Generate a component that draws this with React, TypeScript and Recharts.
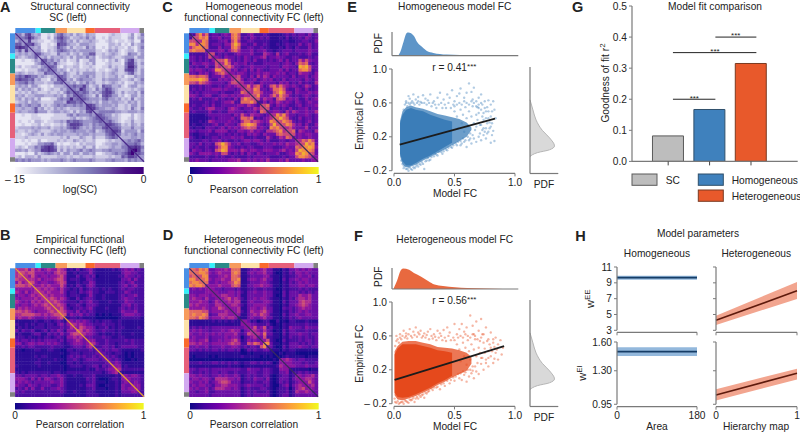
import {
  Area,
  AreaChart,
  Bar,
  BarChart,
  Cell,
  ComposedChart,
  Line,
  ReferenceArea,
  ReferenceLine,
  Scatter,
  ScatterChart,
  XAxis,
  YAxis,
} from "recharts";

const FONT = '"Liberation Sans", Arial, sans-serif';
const INK = "#222222";
const AXIS = "#7a7a7a";

// network strips along the matrices
const networkEdges = [0, 0.158, 0.199, 0.313, 0.403, 0.545, 0.618, 0.817, 0.964, 1];
const networkColors = ["#4a90e6", "#36f0fa", "#2a8a88", "#f79b5c", "#fde2a8", "#fa6a2c", "#e6607a", "#d2aaf0", "#808080"];

const fcLevels = ["#120a8a", "#2d0c95", "#4a0e9f", "#6a10a5", "#8a15a0", "#ac2b90", "#c94a78", "#e26a5e", "#f28c45", "#f0b030"];
const scLevels = ["#f7f6fc", "#e6e5f3", "#cfcce6", "#b5b0d9", "#9c95cb", "#8378bb", "#6c5aa9", "#5a3f9b", "#4b2a8c", "#3f007d"];
const fcStops = ["#0d0887", "#46039f", "#7201a8", "#9c179e", "#bd3786", "#d8576b", "#ed7953", "#fb9f3a", "#fdca26", "#f0f921"];
const scStops = ["#fcfbfd", "#dadaeb", "#bcbddc", "#9e9ac8", "#807dba", "#6a51a3", "#4a1486", "#3f007d"];
const diagonalEnds = [{ x: 0, y: 0 }, { x: 40, y: 40 }];

// upper triangles, one digit (0-9) per cell, spaces only mark the networks
const scRows = [
  "853674 34 11213 564 342432 433 11112322 112412 5",
  "85686 43 11314 675 423343 534 11213222 113413 4",
  "8473 32 21123 565 342423 343 21123212 212311 5",
  "867 43 11212 766 433244 433 11113323 121423 4",
  "84 34 11223 654 242332 534 11213232 213213 5",
  "8 44 21323 565 434344 444 22124342 123313 4",
  "86 43322 533 423424 466 22323432 125442 4",
  "8 34243 343 242443 534 12334322 344424 4",
  "86453 423 122412 244 11213242 146732 3",
  "8546 322 112312 324 11123222 157742 4",
  "865 213 223312 232 11224232 258852 3",
  "85 343 132322 323 12212342 267742 4",
  "8 435 322424 444 22323432 235632 4",
  "865 323344 534 22323342 312243 4",
  "86 342454 443 22434443 223423 5",
  "8 434243 534 22323432 312243 4",
  "856557 423 42655334 213442 3",
  "85486 432 53576432 222323 4",
  "8656 534 34677532 423342 5",
  "865 432 52676442 312442 4",
  "86 544 43564434 232523 4",
  "8 443 42443443 324342 4",
  "876 43444342 232442 4",
  "87 54433432 232532 5",
  "8 45555544 334443 4",
  "86544232 111312 3",
  "8654332 112312 3",
  "856432 122422 3",
  "87654 232432 4",
  "8665 333533 4",
  "876 244442 5",
  "85 343453 4",
  "8 333443 4",
  "845456 4",
  "85565 3",
  "8787 5",
  "897 4",
  "86 5",
  "8 4",
  "8",
];

const homRows = [
  "026857 23 32343 786 223422 232 11112323 233242 3",
  "06878 23 34233 786 232432 323 11121312 232432 3",
  "0587 22 23342 685 223322 222 11112211 223322 4",
  "087 23 33244 797 332242 232 11212322 242342 3",
  "07 22 24233 786 223322 322 11121321 322242 3",
  "0 33 34424 675 333423 342 21223332 333343 3",
  "06 23232 234 333422 254 32523422 232342 2",
  "0 43243 323 243233 452 33433223 322232 3",
  "06685 323 243242 232 32342423 364643 3",
  "0586 343 342322 233 33323432 476732 3",
  "067 533 233433 332 33324433 298963 3",
  "05 342 342424 322 33342423 378862 3",
  "0 434 432334 344 33434233 254432 4",
  "056 332425 354 24333324 233423 4",
  "06 423342 343 42324233 332432 4",
  "0 533422 433 33243423 242322 5",
  "057467 423 67575434 323542 3",
  "06587 332 47786322 432422 3",
  "0577 533 36797442 433343 4",
  "068 433 57586532 323432 3",
  "06 354 42676343 422423 4",
  "0 242 43543432 432343 3",
  "067 32434322 342333 4",
  "06 23323242 233423 3",
  "0 34432535 433433 5",
  "05868533 233432 3",
  "0797632 242332 3",
  "068763 232342 3",
  "06875 342422 4",
  "0564 333523 3",
  "067 254332 5",
  "06 343443 3",
  "0 343343 3",
  "057686 3",
  "06978 3",
  "0898 4",
  "087 3",
  "06 3",
  "0 4",
  "0",
];

const empRows = [
  "955646 45 34544 654 121312 342 11111212 343423 2",
  "96566 44 43435 655 112122 242 11111111 344332 2",
  "9546 43 44344 564 111312 323 01111112 243323 2",
  "955 45 34445 664 122211 332 11111111 334242 2",
  "96 43 44334 565 111212 243 11111112 323422 2",
  "9 44 54544 464 121321 343 11111112 342342 2",
  "95 45454 353 212131 232 21212112 323322 2",
  "9 54544 453 122132 342 21122212 243222 2",
  "95454 443 122211 242 11211112 323342 2",
  "9565 454 211312 332 11211112 343322 2",
  "956 543 222132 342 21112112 243322 2",
  "95 654 122321 333 21111111 334232 2",
  "9 564 212232 342 11121112 323232 2",
  "965 332423 232 11111112 433342 2",
  "96 243342 322 01010111 344433 2",
  "9 122121 111 00000001 222222 1",
  "943434 321 21222112 111111 1",
  "95454 332 22322212 111111 1",
  "9465 443 12231212 211112 1",
  "964 543 22322212 111111 1",
  "95 443 21211212 111211 1",
  "9 332 22322112 211111 1",
  "944 22232222 232322 2",
  "95 32232212 222322 2",
  "9 22332312 333332 2",
  "93232332 111111 2",
  "9322122 101011 1",
  "932321 101011 1",
  "93232 100101 1",
  "9343 111111 1",
  "944 121111 1",
  "95 222222 2",
  "9 111111 1",
  "943443 2",
  "94333 2",
  "9343 2",
  "944 2",
  "94 2",
  "9 2",
  "9",
];

const hetRows = [
  "176878 33 44454 777 112343 453 31102133 434343 3",
  "17887 43 45444 787 113434 453 31002132 443433 3",
  "1688 33 34454 776 112333 344 21102122 343342 3",
  "178 43 44544 778 113443 453 31103133 434433 3",
  "17 33 43445 687 112333 443 21102132 343433 3",
  "1 44 45444 676 113344 544 31102133 344344 3",
  "14 33233 323 112232 232 21002122 232322 2",
  "1 43334 434 213343 343 31103133 323232 3",
  "14554 434 113333 343 31003133 354453 3",
  "1456 454 213343 443 21102132 455453 3",
  "145 455 113433 344 31103133 356553 3",
  "14 554 213344 443 21102133 456543 3",
  "1 445 113443 453 31103232 345443 3",
  "145 213544 564 31102132 343433 3",
  "14 113454 654 21103133 433443 3",
  "1 113433 453 31102132 343333 3",
  "143120 122 00201022 111211 1",
  "14332 223 10102122 222322 2",
  "1463 462 31102143 332433 3",
  "154 353 20103133 222322 2",
  "15 473 31103133 343323 3",
  "1 362 21102132 232322 3",
  "146 21003122 232332 3",
  "18 31102133 323232 3",
  "1 31003133 343323 3",
  "11102122 111111 1",
  "1010111 000000 0",
  "101211 111011 1",
  "14543 233222 2",
  "1443 332322 3",
  "144 333433 3",
  "11 111101 1",
  "1 232322 2",
  "143445 3",
  "14554 3",
  "1464 3",
  "145 3",
  "14 3",
  "1 3",
  "1",
];

// panel E: dense part of the cloud, then the loose points round it
const homBandX = [0.05, 0.07, 0.1, 0.14, 0.18, 0.24, 0.3, 0.36, 0.42, 0.48, 0.54, 0.6, 0.64];
const homCoreLow = [0.0, -0.09, -0.14, -0.14, -0.11, -0.06, -0.02, 0.03, 0.08, 0.13];
const homCoreHigh = [0.36, 0.46, 0.52, 0.54, 0.52, 0.5, 0.46, 0.43, 0.4, 0.38];
const homMidLow = [-0.03, -0.12, -0.16, -0.15, -0.13, -0.08, -0.04, 0.01, 0.05, 0.1, 0.15, 0.2, 0.28];
const homMidHigh = [0.39, 0.5, 0.55, 0.57, 0.55, 0.53, 0.5, 0.47, 0.45, 0.43, 0.41, 0.37, 0.31];
const homPoints = [
  [.1,.62],[.12,.68],[.14,.6],[.13,.65],[.16,.7],[.18,.64],[.2,.67],[.22,.61],[.24,.69],[.26,.65],
  [.28,.63],[.3,.7],[.33,.62],[.36,.66],[.38,.72],[.41,.64],[.44,.7],[.46,.66],[.48,.75],[.5,.62],
  [.52,.68],[.54,.71],[.55,.77],[.58,.66],[.6,.72],[.62,.83],[.64,.73],[.65,.64],[.66,.78],[.68,.62],
  [.7,.66],[.72,.7],[.73,.58],[.75,.62],[.77,.55],[.78,.63],[.8,.58],[.81,.5],[.82,.62],[.83,.52],
  [.84,.42],[.55,.1],[.58,.14],[.6,.08],[.62,.16],[.64,.12],[.66,.18],[.68,.14],[.7,.2],[.72,.16],
  [.74,.22],[.76,.18],[.78,.26],[.8,.13],[.82,.27],[.83,.15],[.8,.32],[.76,.3],[.74,.4],[.78,.42],
  [.7,.48],[.68,.32],[.08,-.14],[.1,-.18],[.12,-.2],[.13,-.16],[.15,-.19],[.17,-.17],[.2,-.15],[.22,-.13],
  [.25,-.18],[.27,-.08],[.3,-.07],[.33,-.03],[.36,-.02],[.4,0],[.44,.04],[.48,.07],[.52,.1],[.56,.12],
  [.74,.48],[.72,.34],[.76,.5],[.79,.37],[.81,.22],[.75,.26],[.73,.28],[.77,.36],[.71,.24],[.69,.55],
  [.5,.5],[.52,.44],[.53,.3],[.55,.52],[.56,.36],[.57,.46],[.58,.26],[.59,.55],[.6,.42],[.61,.32],
  [.62,.5],[.63,.24],[.64,.44],[.65,.56],[.66,.36],[.67,.28],[.68,.46],[.69,.4],[.7,.58],[.71,.34],
  [.72,.52],[.73,.44],[.74,.3],[.75,.54],[.76,.42],[.77,.24],[.78,.5],[.79,.3],[.8,.44],[.81,.36],
  [.54,.6],[.56,.58],[.58,.62],[.6,.6],[.62,.58],[.64,.62],[.66,.6],[.68,.56],[.7,.54],[.72,.6],
  [.08,.52],[.09,.58],[.1,.6],[.11,.56],[.12,.6],[.13,.58],[.15,.62],[.16,.6],[.17,.58],[.19,.6],
  [.2,.62],[.21,.58],[.23,.6],[.25,.6],[.27,.58],[.29,.6],[.31,.56],[.32,.6],[.34,.58],[.35,.54],
  [.37,.58],[.39,.6],[.4,.54],[.42,.58],[.43,.54],[.45,.6],[.47,.54],[.49,.58],[.5,.56],[.52,.58],
  [.06,-.08],[.07,-.12],[.08,-.17],[.09,-.15],[.11,-.18],[.12,-.16],[.14,-.18],[.16,-.16],[.18,-.15],[.19,-.13],
  [.21,-.12],[.23,-.1],[.24,-.12],[.26,-.09],[.28,-.05],[.29,-.08],[.31,-.04],[.34,0],[.35,-.01],[.37,.02],
  [.39,.02],[.41,.03],[.43,.05],[.45,.07],[.47,.08],[.49,.1],[.51,.12],[.53,.14],[.55,.15],[.57,.18],
  [.59,.16],[.61,.2],[.63,.18],[.65,.22],
];
const homFit = [{ x: 0.047, y: 0.107 }, { x: 0.835, y: 0.414 }];

// panel F
const hetBandX = [0.005, 0.03, 0.07, 0.12, 0.18, 0.24, 0.3, 0.36, 0.42, 0.48, 0.54, 0.6, 0.64];
const hetCoreLow = [-0.07, -0.12, -0.13, -0.12, -0.09, -0.05, -0.01, 0.04, 0.08, 0.13];
const hetCoreHigh = [0.38, 0.45, 0.5, 0.5, 0.5, 0.48, 0.46, 0.43, 0.42, 0.4];
const hetMidLow = [-0.1, -0.15, -0.16, -0.14, -0.11, -0.07, -0.03, 0.02, 0.06, 0.11, 0.15, 0.19, 0.27];
const hetMidHigh = [0.42, 0.48, 0.53, 0.54, 0.54, 0.52, 0.5, 0.47, 0.46, 0.45, 0.43, 0.4, 0.35];
const hetPoints = [
  [.02,.6],[.05,.62],[.08,.66],[.1,.63],[.13,.68],[.16,.65],[.18,.7],[.2,.64],[.22,.66],[.25,.63],
  [.28,.65],[.3,.68],[.33,.62],[.36,.66],[.38,.63],[.41,.67],[.44,.7],[.46,.64],[.5,.74],[.52,.62],
  [.54,.68],[.56,.74],[.58,.65],[.6,.7],[.63,.84],[.65,.72],[.66,.62],[.68,.77],[.7,.66],[.72,.8],
  [.74,.62],[.76,.7],[.78,.56],[.8,.64],[.82,.52],[.84,.58],[.86,.5],[.88,.55],[.9,.46],[.89,.38],
  [.86,.32],[.84,.4],[.82,.28],[.8,.36],[.78,.24],[.76,.32],[.74,.2],[.72,.27],[.7,.15],[.68,.18],
  [.66,.1],[.64,.16],[.62,.12],[.6,.06],[.58,.14],[.56,.08],[.8,.46],[.78,.42],[.75,.45],[.83,.47],
  [.02,-.19],[.04,-.2],[.06,-.18],[.08,-.2],[.1,-.17],[.12,-.19],[.14,-.16],[.17,-.18],[.2,-.14],[.22,-.12],
  [.25,-.13],[.28,-.06],[.32,-.04],[.35,-.01],[.38,-.03],[.42,.01],[.46,.04],[.5,.07],[.54,.1],[.72,.34],
  [.52,.5],[.54,.44],[.55,.3],[.57,.52],[.58,.36],[.59,.46],[.6,.26],[.61,.55],[.62,.42],[.63,.32],
  [.64,.5],[.65,.24],[.66,.44],[.67,.56],[.68,.36],[.69,.28],[.7,.46],[.71,.4],[.72,.58],[.73,.34],
  [.74,.52],[.75,.4],[.76,.28],[.77,.54],[.78,.34],[.79,.5],[.81,.42],[.82,.56],[.83,.33],[.85,.44],
  [.55,.6],[.57,.58],[.59,.62],[.61,.6],[.63,.58],[.65,.62],[.67,.6],[.69,.56],[.71,.54],[.73,.62],
  [.01,.48],[.02,.54],[.03,.56],[.04,.52],[.05,.58],[.06,.56],[.07,.6],[.09,.58],[.1,.6],[.11,.57],
  [.12,.62],[.14,.6],[.15,.58],[.17,.61],[.19,.59],[.21,.62],[.23,.58],[.24,.6],[.26,.58],[.27,.61],
  [.29,.56],[.31,.6],[.32,.57],[.34,.59],[.35,.55],[.37,.58],[.39,.6],[.4,.55],[.42,.58],[.43,.54],
  [.45,.6],[.47,.55],[.49,.58],[.5,.55],[.53,.58],[.005,-.14],[.01,-.18],[.03,-.17],[.05,-.19],[.07,-.18],
  [.09,-.16],[.11,-.18],[.13,-.15],[.15,-.15],[.16,-.13],[.18,-.14],[.19,-.12],[.21,-.1],[.23,-.1],[.24,-.09],
  [.26,-.07],[.27,-.08],[.29,-.05],[.31,-.02],[.33,-.01],[.36,.0],[.39,.03],[.41,.04],[.44,.07],[.47,.08],
  [.49,.11],[.51,.12],[.53,.15],[.55,.16],[.57,.18],[.59,.17],[.61,.2],[.63,.2],[.65,.19],[.67,.24],
];
const hetFit = [{ x: 0.005, y: 0.08 }, { x: 0.91, y: 0.48 }];

// marginal densities
const homPdfX = [0.03, 0.05, 0.074, 0.1, 0.113, 0.16, 0.185, 0.226, 0.267, 0.32, 0.43, 0.65, 0.85];
const homPdfY = [0, 0.2, 0.6, 0.98, 1, 0.85, 0.6, 0.38, 0.2, 0.12, 0.05, 0.02, 0];
const hetPdfX = [-0.01, 0.02, 0.05, 0.07, 0.12, 0.16, 0.22, 0.28, 0.33, 0.4, 0.5, 0.6, 0.75, 0.9];
const hetPdfY = [0, 0.4, 0.9, 1, 0.93, 0.78, 0.6, 0.38, 0.22, 0.15, 0.09, 0.05, 0.02, 0.005];
const empPdfY = [-0.03, 0.016, 0.05, 0.095, 0.19, 0.28, 0.4, 0.52, 0.64];
const empPdfX = [0, 0.3, 0.8, 1, 0.8, 0.5, 0.25, 0.12, 0];

// panel G
const fitNames = ["SC", "Homogeneous", "Heterogeneous"];
const fitValues = [0.082, 0.167, 0.315];
const fitFills = ["#bdbdbd", "#3f81bd", "#e8592b"];
const fitStrokes = ["#5a5a5a", "#2f4f6b", "#7a3a22"];
const fitBrackets = [
  { from: 1.115, to: 2.14, y: 0.2 },
  { from: 1.115, to: 3.13, y: 0.35 },
  { from: 2.14, to: 3.13, y: 0.4 },
];

// panel H
const homArea = [0, 180];
const homEEMid = [9.66, 9.66];
const homEELow = [9.4, 9.4];
const homEEHigh = [9.9, 9.9];
const homEIMid = [1.5, 1.5];
const homEILow = [1.454, 1.454];
const homEIHigh = [1.544, 1.544];
const hierarchy = [0, 1];
const hetEEMid = [4.26, 8.0];
const hetEELow = [3.67, 6.96];
const hetEEHigh = [4.85, 9.1];
const hetEIMid = [1.047, 1.273];
const hetEILow = [0.99, 1.21];
const hetEIHigh = [1.106, 1.322];

const N = 40;
const STRIP = 1.65;

type Box = [number, number, number, number];

function frame(box: Box, showX = false, showY = false) {
  const [l, t, r, b] = box;
  return {
    style: { position: "absolute" as const, left: l - 36, top: t - 6 },
    width: r - l + 50,
    height: b - t + 30,
    margin: { left: showY ? 6 : 36, right: 14, top: 6, bottom: showX ? 4 : 24 },
  };
}

function buildCells(rows: string[]) {
  const clean = rows.map((r) => r.replace(/ /g, ""));
  const cells: { x: number; y: number; level: number }[] = [];
  for (let i = 0; i < N; i++) {
    for (let j = 0; j < N; j++) {
      const a = Math.min(i, j);
      const b = Math.max(i, j);
      // the diagonal itself is drawn as a thin line on top, so its cells take the neighbour's value
      const digit = i === j ? clean[a][1] ?? clean[a - 1][1] : clean[a][b - a];
      cells.push({ x: j + 0.5, y: i + 0.5, level: Number(digit ?? 2) });
    }
  }
  return cells;
}

function Heatmap({ rows, levels, box, diagonal }: { rows: string[]; levels: string[]; box: Box; diagonal: string }) {
  const f = frame(box);
  const size = (box[2] - box[0]) / (N + STRIP) + 0.4;
  const cell = (p: any) => (
    <rect x={p.cx - size / 2} y={p.cy - size / 2} width={size} height={size} fill={levels[p.payload.level]} />
  );
  return (
    <div style={f.style}>
      <ScatterChart width={f.width} height={f.height} margin={f.margin}>
        <XAxis type="number" dataKey="x" domain={[-STRIP, N]} hide />
        <YAxis type="number" dataKey="y" domain={[-STRIP, N]} reversed hide />
        <Scatter data={buildCells(rows)} shape={cell} isAnimationActive={false} />
        <Scatter data={diagonalEnds} line={{ stroke: diagonal, strokeWidth: 1.2 }} shape={() => <g />} isAnimationActive={false} />
        {networkColors.map((c, k) => (
          <ReferenceArea key={"t" + k} x1={networkEdges[k] * N} x2={networkEdges[k + 1] * N} y1={-STRIP} y2={0} fill={c} fillOpacity={1} stroke="none" />
        ))}
        {networkColors.map((c, k) => (
          <ReferenceArea key={"l" + k} y1={networkEdges[k] * N} y2={networkEdges[k + 1] * N} x1={-STRIP} x2={0} fill={c} fillOpacity={1} stroke="none" />
        ))}
      </ScatterChart>
    </div>
  );
}

function Colorbar({ id, stops, box, labels }: { id: string; stops: string[]; box: Box; labels: string[] }) {
  const f = frame(box, true);
  return (
    <div style={f.style}>
      <AreaChart width={f.width} height={f.height} margin={f.margin} data={[{ x: 0, v: 1 }, { x: 1, v: 1 }]}>
        <defs>
          <linearGradient id={id} x1="0" y1="0" x2="1" y2="0">
            {stops.map((c, i) => (
              <stop key={c} offset={i / (stops.length - 1)} stopColor={c} />
            ))}
          </linearGradient>
        </defs>
        <XAxis
          type="number"
          dataKey="x"
          domain={[0, 1]}
          ticks={[0, 1]}
          tickFormatter={(v) => labels[v]}
          tickLine={false}
          axisLine={false}
          tickSize={0}
          tickMargin={2}
          tick={{ fill: INK, fontSize: 10.2 }}
          height={20}
          interval={0}
        />
        <YAxis domain={[0, 1]} hide />
        <Area type="linear" dataKey="v" fill={`url(#${id})`} fillOpacity={1} stroke="none" isAnimationActive={false} />
      </AreaChart>
    </div>
  );
}

function segment(key: string, x1: number, y1: number, x2: number, y2: number, stroke = AXIS, strokeWidth = 1.2) {
  return (
    <ReferenceLine
      key={key}
      segment={[{ x: x1, y: y1 }, { x: x2, y: y2 }]}
      stroke={stroke}
      strokeWidth={strokeWidth}
      ifOverflow="visible"
    />
  );
}

const tickStyle = { fill: INK, fontSize: 10.2 };

function CloudPanel(props: {
  box: Box;
  bandX: number[];
  coreLow: number[];
  coreHigh: number[];
  midLow: number[];
  midHigh: number[];
  points: number[][];
  fit: { x: number; y: number }[];
  color: string;
}) {
  const { box, bandX, coreLow, coreHigh, midLow, midHigh, points, fit, color } = props;
  const f = frame(box, true, true);
  const rows = bandX.map((x, i) => ({
    x,
    core: coreLow[i] === undefined ? null : [coreLow[i], coreHigh[i]],
    mid: [midLow[i], midHigh[i]],
  }));
  const dots = points.map(([x, y]) => ({ x, y }));
  const xMin = -0.0165;
  const yMin = -0.232;
  return (
    <div style={f.style}>
      <ComposedChart width={f.width} height={f.height} margin={f.margin} data={rows}>
        <XAxis
          type="number"
          dataKey="x"
          domain={[xMin, 1]}
          ticks={[0, 0.5, 1]}
          tickFormatter={(v) => v.toFixed(1)}
          axisLine={false}
          tickLine={{ stroke: AXIS }}
          tickSize={3}
          tick={tickStyle}
          height={20}
          interval={0}
        />
        <YAxis
          type="number"
          dataKey="y"
          domain={[yMin, 1]}
          ticks={[-0.2, 0.2, 0.6, 1]}
          tickFormatter={(v) => (v < 0 ? "–\u00a00.2" : v.toFixed(1))}
          axisLine={false}
          tickLine={{ stroke: AXIS }}
          tickSize={3}
          tick={tickStyle}
          width={30}
          interval={0}
        />
        <Area type="linear" dataKey="mid" fill={color} fillOpacity={0.75} stroke="none" isAnimationActive={false} />
        <Area type="linear" dataKey="core" fill={color} fillOpacity={1} stroke="none" isAnimationActive={false} />
        <Scatter
          data={dots}
          dataKey="y"
          isAnimationActive={false}
          shape={(p: any) => <circle cx={p.cx} cy={p.cy} r={1.2} fill={color} fillOpacity={0.4} />}
        />
        <Scatter
          data={fit}
          dataKey="y"
          isAnimationActive={false}
          line={{ stroke: "#1c1c1c", strokeWidth: 1.8 }}
          shape={() => <g />}
        />
        {segment("ya", xMin, -0.2, xMin, 1)}
        {segment("xa", 0, yMin, 1, yMin)}
      </ComposedChart>
    </div>
  );
}

function TopPdf({ box, xs, ys, color }: { box: Box; xs: number[]; ys: number[]; color: string }) {
  const f = frame(box);
  const xMin = (box[0] - 394.3) / 121;
  const xMax = (box[2] - 394.3) / 121;
  return (
    <div style={f.style}>
      <AreaChart width={f.width} height={f.height} margin={f.margin} data={xs.map((x, i) => ({ x, pdf: ys[i] }))}>
        <XAxis type="number" dataKey="x" domain={[xMin, xMax]} hide />
        <YAxis type="number" domain={[0, 1.02]} hide />
        <Area type="monotone" dataKey="pdf" fill={color} fillOpacity={1} stroke="none" isAnimationActive={false} />
        {segment("ya", xMin, 0, xMin, 1.02)}
        {segment("xa", xMin, 0, xMax, 0)}
      </AreaChart>
    </div>
  );
}

function SidePdf({ box }: { box: Box }) {
  const f = frame(box);
  return (
    <div style={f.style}>
      <AreaChart
        layout="vertical"
        width={f.width}
        height={f.height}
        margin={f.margin}
        data={empPdfY.map((y, i) => ({ y, pdf: empPdfX[i] }))}
      >
        <XAxis type="number" domain={[0, 1.155]} hide />
        <YAxis type="number" dataKey="y" domain={[-0.23, 1.027]} reversed hide />
        <Area type="monotone" dataKey="pdf" fill="#d9d9d9" fillOpacity={1} stroke="#b5b5b5" isAnimationActive={false} />
        {segment("ya", 0, -0.23, 0, 1.027)}
        {segment("xa", 0, -0.23, 1.155, -0.23)}
      </AreaChart>
    </div>
  );
}

function ParamPanel(props: {
  box: Box;
  xs: number[];
  mid: number[];
  low: number[];
  high: number[];
  xDomain: number[];
  yDomain: number[];
  yTicks: number[];
  yFormat?: (v: number) => string;
  xLabels: boolean;
  band: string;
  line: string;
}) {
  const { box, xs, mid, low, high, xDomain, yDomain, yTicks, yFormat, xLabels, band, line } = props;
  const f = frame(box, true, true);
  const rows = xs.map((x, i) => ({ x, mid: mid[i], band: [low[i], high[i]] }));
  return (
    <div style={f.style}>
      <ComposedChart width={f.width} height={f.height} margin={f.margin} data={rows}>
        <XAxis
          type="number"
          dataKey="x"
          domain={xDomain}
          ticks={xDomain}
          tickFormatter={xLabels ? undefined : () => ""}
          axisLine={false}
          tickLine={{ stroke: AXIS }}
          tickSize={3}
          tick={tickStyle}
          height={20}
          interval={0}
        />
        <YAxis
          type="number"
          domain={yDomain}
          ticks={yTicks}
          tickFormatter={yFormat ?? (() => "")}
          axisLine={false}
          tickLine={{ stroke: AXIS }}
          tickSize={3}
          tick={tickStyle}
          width={30}
          interval={0}
        />
        <Area type="linear" dataKey="band" fill={band} fillOpacity={1} stroke="none" isAnimationActive={false} />
        <Line type="linear" dataKey="mid" stroke={line} strokeWidth={1.6} dot={false} isAnimationActive={false} />
        {segment("ya", xDomain[0], yTicks[0], xDomain[0], yTicks[yTicks.length - 1])}
        {segment("xa", xDomain[0], yDomain[0], xDomain[1], yDomain[0])}
      </ComposedChart>
    </div>
  );
}

function FitBars() {
  const box: Box = [632.3, 6.3, 798, 161.7];
  const f = frame(box, true, true);
  const rows = fitNames.map((name, i) => ({ name, pos: i + 1, value: fitValues[i] }));
  return (
    <div style={f.style}>
      <BarChart width={f.width} height={f.height} margin={f.margin} data={rows}>
        <XAxis
          type="number"
          dataKey="pos"
          domain={[0.126, 4.128]}
          ticks={[1, 2, 3]}
          tickFormatter={() => ""}
          tick={tickStyle}
          tickLine={{ stroke: "#444" }}
          axisLine={{ stroke: AXIS, strokeWidth: 1.2 }}
          tickSize={4}
          height={20}
          interval={0}
        />
        <YAxis
          type="number"
          domain={[0, 0.5]}
          ticks={[0, 0.1, 0.2, 0.3, 0.4, 0.5]}
          tickFormatter={(v) => v.toFixed(1)}
          axisLine={{ stroke: AXIS, strokeWidth: 1.2 }}
          tickLine={{ stroke: AXIS }}
          tickSize={3}
          tick={tickStyle}
          width={30}
          interval={0}
        />
        <Bar dataKey="value" barSize={31} isAnimationActive={false} strokeWidth={1}>
          {fitNames.map((name, i) => (
            <Cell key={name} fill={fitFills[i]} stroke={fitStrokes[i]} />
          ))}
        </Bar>
        {fitBrackets.map((b, i) => segment("b" + i, b.from, b.y, b.to, b.y, "#222", 1))}
      </BarChart>
    </div>
  );
}

const T = ({ x, y, children, anchor = "middle", size = 10.2, weight }: any) => (
  <text x={x} y={y} textAnchor={anchor} fontSize={size} fontWeight={weight} fill={INK}>
    {children}
  </text>
);

const R = ({ x, y, children, size = 10.2 }: any) => (
  <text transform={`translate(${x},${y}) rotate(-90)`} textAnchor="middle" fontSize={size} fill={INK}>
    {children}
  </text>
);

function Overlay() {
  return (
    <svg width={800} height={432} style={{ position: "absolute", left: 0, top: 0, pointerEvents: "none" }}>
      <T x={0} y={12} anchor="start" size={14.5} weight="bold">A</T>
      <T x={162.3} y={12} anchor="start" size={14.5} weight="bold">C</T>
      <T x={0} y={240.3} anchor="start" size={14.5} weight="bold">B</T>
      <T x={162.7} y={240.3} anchor="start" size={14.5} weight="bold">D</T>
      <T x={347.3} y={12} anchor="start" size={14.5} weight="bold">E</T>
      <T x={354} y={241} anchor="start" size={14.5} weight="bold">F</T>
      <T x={572} y={12} anchor="start" size={14.5} weight="bold">G</T>
      <T x={575.3} y={241} anchor="start" size={14.5} weight="bold">H</T>

      <T x={80} y={9.5}>Structural connectivity</T>
      <T x={68} y={20.5}>SC (left)</T>
      <T x={254} y={9.5}>Homogeneous model</T>
      <T x={254} y={20.5}>functional connectivity FC (left)</T>
      <T x={80} y={243.3}>Empirical functional</T>
      <T x={80} y={254.3}>connectivity FC (left)</T>
      <T x={254} y={243.3}>Heterogeneous model</T>
      <T x={254} y={254.3}>functional connectivity FC (left)</T>
      <T x={80} y={193}>log(SC)</T>
      <T x={254} y={193}>Pearson correlation</T>
      <T x={80} y={428}>Pearson correlation</T>
      <T x={254} y={428}>Pearson correlation</T>

      <T x={454.7} y={9.5}>Homogeneous model FC</T>
      <T x={454.7} y={243.3}>Heterogeneous model FC</T>
      <T x={454.3} y={71}>r = 0.41<tspan fontSize={8} dy={-2}>***</tspan></T>
      <T x={454.3} y={304}>r = 0.56<tspan fontSize={8} dy={-2}>***</tspan></T>
      <R x={382} y={43.3}>PDF</R>
      <R x={382} y={276.7}>PDF</R>
      <R x={363} y={120.7}>Empirical FC</R>
      <R x={363} y={353.7}>Empirical FC</R>
      <T x={455} y={197}>Model FC</T>
      <T x={455} y={430}>Model FC</T>
      <T x={544} y={188}>PDF</T>
      <T x={544} y={421}>PDF</T>

      <T x={715} y={9.5}>Model fit comparison</T>
      <R x={609} y={83}>Goodness of fit r<tspan fontSize={8} dy={-4}>2</tspan></R>
      <T x={694.3} y={101} size={8}>***</T>
      <T x={715} y={54} size={8}>***</T>
      <T x={735.7} y={38} size={8}>***</T>
      <rect x={632} y={174} width={25} height={11.3} fill={fitFills[0]} stroke={fitStrokes[0]} />
      <rect x={698.3} y={174} width={25} height={11.3} fill={fitFills[1]} stroke={fitStrokes[1]} />
      <rect x={698.3} y={190} width={25} height={11.3} fill={fitFills[2]} stroke={fitStrokes[2]} />
      <T x={665.7} y={184} anchor="start">{fitNames[0]}</T>
      <T x={731.7} y={184} anchor="start">{fitNames[1]}</T>
      <T x={731.7} y={200} anchor="start">{fitNames[2]}</T>

      <T x={698} y={236.5}>Model parameters</T>
      <T x={657} y={256.5}>Homogeneous</T>
      <T x={756.3} y={256.5}>Heterogeneous</T>
      <R x={594} y={298.7} size={11}>w<tspan fontSize={8} dy={-4}>EE</tspan></R>
      <R x={586} y={373} size={11}>w<tspan fontSize={8} dy={-4}>EI</tspan></R>
      <T x={657} y={430}>Area</T>
      <T x={756} y={430}>Hierarchy map</T>
    </svg>
  );
}

export default function App() {
  const blue = "#3b7db8";
  const red = "#e5491c";
  const eeDomain = [2.75, 11];
  const eiDomain = [0.925, 1.6];
  const eeTicks = [3, 5, 7, 9, 11];
  const eiTicks = [0.95, 1.3, 1.6];
  return (
    <div style={{ position: "absolute", left: 0, top: 0, width: 800, height: 432, background: "#fff", fontFamily: FONT, overflow: "hidden" }}>
      <Heatmap rows={scRows} levels={scLevels} box={[10, 27.7, 144, 161.5]} diagonal="#4b2a8c" />
      <Heatmap rows={homRows} levels={fcLevels} box={[184.4, 27.7, 318.4, 161.5]} diagonal="#3a2a60" />
      <Heatmap rows={empRows} levels={fcLevels} box={[10, 263, 144, 396.8]} diagonal="#e8a030" />
      <Heatmap rows={hetRows} levels={fcLevels} box={[184.4, 263, 318.4, 396.8]} diagonal="#3a2a60" />

      <Colorbar id="barA" stops={scStops} box={[15.3, 167, 144, 174]} labels={["–\u00a015", "0"]} />
      <Colorbar id="barC" stops={fcStops} box={[189.7, 167, 318.4, 174]} labels={["0", "1"]} />
      <Colorbar id="barB" stops={fcStops} box={[15.3, 402.7, 144, 409.3]} labels={["0", "1"]} />
      <Colorbar id="barD" stops={fcStops} box={[189.7, 402.7, 318.4, 409.3]} labels={["0", "1"]} />

      <TopPdf box={[391.7, 32, 518, 55.7]} xs={homPdfX} ys={homPdfY} color="#5e95c8" />
      <TopPdf box={[391.7, 267.7, 518, 288.7]} xs={hetPdfX} ys={hetPdfY} color="#e8693f" />
      <CloudPanel box={[392.3, 69.3, 515.3, 173.7]} bandX={homBandX} coreLow={homCoreLow} coreHigh={homCoreHigh} midLow={homMidLow} midHigh={homMidHigh} points={homPoints} fit={homFit} color={blue} />
      <CloudPanel box={[392.3, 302.3, 515.3, 406.7]} bandX={hetBandX} coreLow={hetCoreLow} coreHigh={hetCoreHigh} midLow={hetMidLow} midHigh={hetMidHigh} points={hetPoints} fit={hetFit} color={red} />
      <SidePdf box={[529.7, 67, 558, 173.5]} />
      <SidePdf box={[529.7, 300, 558, 406.5]} />

      <FitBars />

      <ParamPanel box={[617, 266.7, 697, 332]} xs={homArea} mid={homEEMid} low={homEELow} high={homEEHigh} xDomain={homArea} yDomain={eeDomain} yTicks={eeTicks} yFormat={(v) => String(v)} xLabels={false} band="#93b8dc" line="#163d66" />
      <ParamPanel box={[716, 266.7, 797, 332]} xs={hierarchy} mid={hetEEMid} low={hetEELow} high={hetEEHigh} xDomain={hierarchy} yDomain={eeDomain} yTicks={eeTicks} xLabels={false} band="#f2a58f" line="#5e1a0c" />
      <ParamPanel box={[617, 342, 697, 406.7]} xs={homArea} mid={homEIMid} low={homEILow} high={homEIHigh} xDomain={homArea} yDomain={eiDomain} yTicks={eiTicks} yFormat={(v) => v.toFixed(2)} xLabels band="#93b8dc" line="#163d66" />
      <ParamPanel box={[716, 342, 797, 406.7]} xs={hierarchy} mid={hetEIMid} low={hetEILow} high={hetEIHigh} xDomain={hierarchy} yDomain={eiDomain} yTicks={eiTicks} xLabels band="#f2a58f" line="#5e1a0c" />

      <Overlay />
    </div>
  );
}
